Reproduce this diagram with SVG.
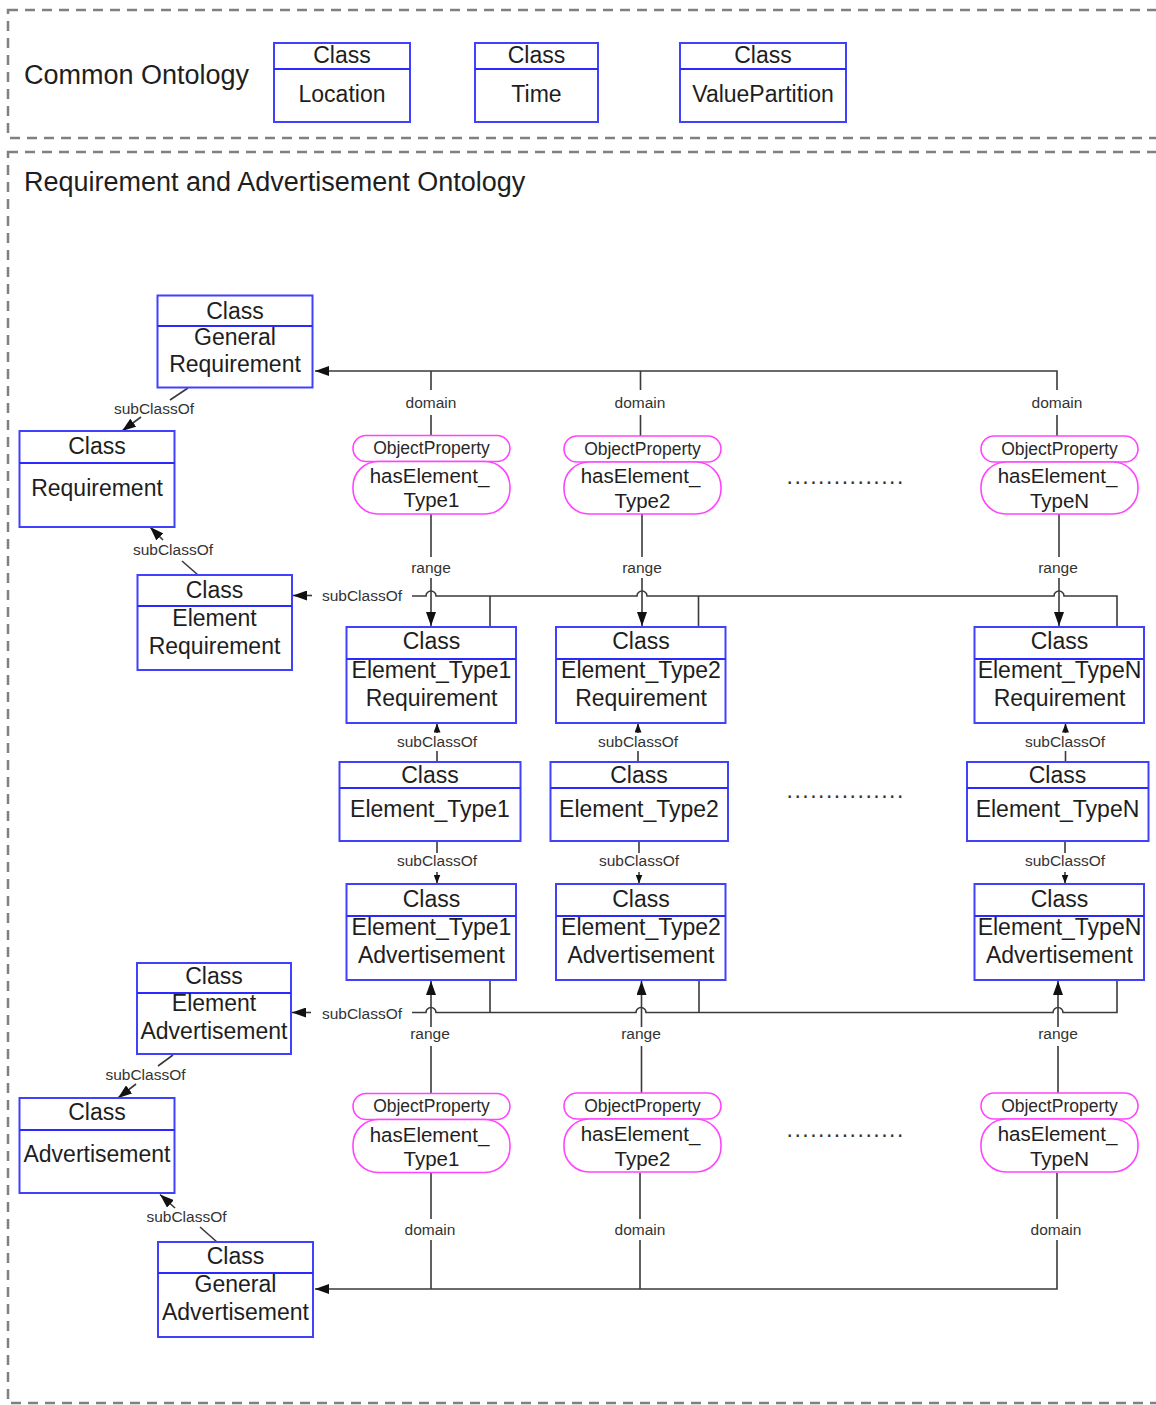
<svg xmlns="http://www.w3.org/2000/svg" width="1156" height="1405" viewBox="0 0 1156 1405">
  <style>
    .frame { fill: none; stroke: #808080; stroke-width: 2.5; stroke-dasharray: 10 7; }
    .title { font-family: "Liberation Sans", Arial, sans-serif; font-size: 27px; fill: #1e1e1e; }
    .cls rect { fill: #ffffff; stroke: #4040ff; stroke-width: 2; }
    .cls line { stroke: #2a2aff; stroke-width: 2.2; }
    .cls text { font-family: "Liberation Sans", Arial, sans-serif; font-size: 23px; fill: #1e1e1e; text-anchor: middle; }
    .prop rect { fill: #ffffff; stroke: #ff44ff; stroke-width: 1.6; }
    .prop text { font-family: "Liberation Sans", Arial, sans-serif; fill: #1e1e1e; text-anchor: middle; }
    .prop .kind { font-size: 17.5px; fill: #2a2a2a; }
    .prop .name { font-size: 20.5px; }
    .conn { fill: none; stroke: #3a3a3a; stroke-width: 1.6; }
    .lbl { font-family: "Liberation Sans", Arial, sans-serif; font-size: 15.5px; fill: #333333; text-anchor: middle; }
    .dots { font-family: "Liberation Sans", Arial, sans-serif; font-size: 23px; fill: #333333; letter-spacing: 1.5px; }
  </style>
  <defs>
    <marker id="ah" viewBox="0 0 14 10" refX="14" refY="5" markerWidth="14" markerHeight="10" markerUnits="userSpaceOnUse" orient="auto">
      <path d="M0,0 L14,5 L0,10 z" fill="#111111"/>
    </marker>
    <marker id="ahs" viewBox="0 0 9 7" refX="9" refY="3.5" markerWidth="9" markerHeight="7" markerUnits="userSpaceOnUse" orient="auto">
      <path d="M0,0 L9,3.5 L0,7 z" fill="#111111"/>
    </marker>
  </defs>

  <rect width="1156" height="1405" fill="#ffffff"/>

  <!-- ontology frames -->
  <rect class="frame" x="8" y="10" width="1200" height="128"/>
  <rect class="frame" x="8" y="152" width="1200" height="1251"/>
  <text class="title" x="24" y="84">Common Ontology</text>
  <text class="title" x="24" y="191">Requirement and Advertisement Ontology</text>

  <!-- common ontology classes -->
  <g id="location" class="cls">
    <rect x="274" y="43" width="136" height="79"/>
    <line x1="274" y1="69" x2="410" y2="69"/>
    <text x="342" y="63">Class</text>
    <text x="342" y="102">Location</text>
  </g>
  <g id="time" class="cls">
    <rect x="475" y="43" width="123" height="79"/>
    <line x1="475" y1="69" x2="598" y2="69"/>
    <text x="536.5" y="63">Class</text>
    <text x="536.5" y="102">Time</text>
  </g>
  <g id="value-partition" class="cls">
    <rect x="680" y="43" width="166" height="79"/>
    <line x1="680" y1="69" x2="846" y2="69"/>
    <text x="763" y="63">Class</text>
    <text x="763" y="102">ValuePartition</text>
  </g>

  <!-- connectors -->
  <g id="connectors">
    <!-- domain links, requirement side -->
    <path class="conn" d="M1057,390 L1057,371 L315,371" marker-end="url(#ah)"/>
    <path class="conn" d="M431,371 L431,390 M431,415 L431,435"/>
    <path class="conn" d="M640.5,371 L640.5,390 M640.5,415 L640.5,436"/>
    <path class="conn" d="M1057,415 L1057,436"/>
    <text class="lbl" x="431" y="408">domain</text>
    <text class="lbl" x="640" y="408">domain</text>
    <text class="lbl" x="1057" y="408">domain</text>

    <!-- range links, requirement side -->
    <path class="conn" d="M431,514 L431,557"/>
    <path class="conn" d="M431,578 L431,626" marker-end="url(#ah)"/>
    <path class="conn" d="M642,514 L642,557"/>
    <path class="conn" d="M642,578 L642,626" marker-end="url(#ah)"/>
    <path class="conn" d="M1059,514 L1059,557"/>
    <path class="conn" d="M1059,578 L1059,626" marker-end="url(#ah)"/>
    <text class="lbl" x="431" y="573">range</text>
    <text class="lbl" x="642" y="573">range</text>
    <text class="lbl" x="1058" y="573">range</text>

    <!-- subClassOf bus to Element Requirement -->
    <path class="conn" d="M1117,627 L1117,596 L1064,596 A5,5 0 0 0 1054,596 L647,596 A5,5 0 0 0 637,596 L436,596 A5,5 0 0 0 426,596 L412,596"/>
    <path class="conn" d="M490,596 L490,627 M698.5,596 L698.5,627"/>
    <path class="conn" d="M312,595.5 L293,595.5" marker-end="url(#ah)"/>
    <text class="lbl" x="362" y="600.5">subClassOf</text>

    <!-- subClassOf between element rows -->
    <path class="conn" d="M437,762 L437,751 M638,762 L638,751 M1065.5,762 L1065.5,751"/>
    <path class="conn" d="M437,733 L437,723.5" marker-end="url(#ahs)"/>
    <path class="conn" d="M638,733 L638,723.5" marker-end="url(#ahs)"/>
    <path class="conn" d="M1065.5,733 L1065.5,723.5" marker-end="url(#ahs)"/>
    <text class="lbl" x="437" y="747">subClassOf</text>
    <text class="lbl" x="638" y="747">subClassOf</text>
    <text class="lbl" x="1065" y="747">subClassOf</text>

    <path class="conn" d="M437,841 L437,853 M639,841 L639,853 M1065,841 L1065,853"/>
    <path class="conn" d="M437,872 L437,883.5" marker-end="url(#ahs)"/>
    <path class="conn" d="M639,872 L639,883.5" marker-end="url(#ahs)"/>
    <path class="conn" d="M1065,872 L1065,883.5" marker-end="url(#ahs)"/>
    <text class="lbl" x="437" y="866">subClassOf</text>
    <text class="lbl" x="639" y="866">subClassOf</text>
    <text class="lbl" x="1065" y="866">subClassOf</text>

    <!-- subClassOf bus to Element Advertisement -->
    <path class="conn" d="M1117,980 L1117,1012.5 L1063,1012.5 A5,5 0 0 0 1053,1012.5 L646,1012.5 A5,5 0 0 0 636,1012.5 L436,1012.5 A5,5 0 0 0 426,1012.5 L412,1012.5"/>
    <path class="conn" d="M490,980 L490,1012.5 M699,980 L699,1012.5"/>
    <path class="conn" d="M311,1012.5 L292,1012.5" marker-end="url(#ah)"/>
    <text class="lbl" x="362" y="1018.5">subClassOf</text>

    <!-- range links, advertisement side -->
    <path class="conn" d="M431,1093 L431,1046"/>
    <path class="conn" d="M431,1027 L431,981" marker-end="url(#ah)"/>
    <path class="conn" d="M641.5,1093 L641.5,1046"/>
    <path class="conn" d="M641.5,1027 L641.5,981" marker-end="url(#ah)"/>
    <path class="conn" d="M1058,1093 L1058,1046"/>
    <path class="conn" d="M1058,1027 L1058,981" marker-end="url(#ah)"/>
    <text class="lbl" x="430" y="1039">range</text>
    <text class="lbl" x="641" y="1039">range</text>
    <text class="lbl" x="1058" y="1039">range</text>

    <!-- domain links, advertisement side -->
    <path class="conn" d="M431,1173 L431,1219 M431,1240 L431,1289"/>
    <path class="conn" d="M640,1173 L640,1219 M640,1240 L640,1289"/>
    <path class="conn" d="M1057,1173 L1057,1219"/>
    <path class="conn" d="M1057,1240 L1057,1289 L315,1289" marker-end="url(#ah)"/>
    <text class="lbl" x="430" y="1234.5">domain</text>
    <text class="lbl" x="640" y="1234.5">domain</text>
    <text class="lbl" x="1056" y="1234.5">domain</text>

    <!-- left-hand hierarchy -->
    <path class="conn" d="M188,388 L170,400"/>
    <path class="conn" d="M141,417 L122,431" marker-end="url(#ah)"/>
    <text class="lbl" x="154" y="413.5">subClassOf</text>

    <path class="conn" d="M198,575 L182,561"/>
    <path class="conn" d="M163,540 L150,527" marker-end="url(#ah)"/>
    <text class="lbl" x="173" y="554.5">subClassOf</text>

    <path class="conn" d="M173,1055 L158,1066"/>
    <path class="conn" d="M136,1084 L118,1098" marker-end="url(#ah)"/>
    <text class="lbl" x="145.5" y="1080">subClassOf</text>

    <path class="conn" d="M217,1242 L200,1227"/>
    <path class="conn" d="M175,1208 L160,1194.5" marker-end="url(#ah)"/>
    <text class="lbl" x="186.5" y="1221.5">subClassOf</text>
  </g>

  <!-- left-hand classes -->
  <g id="general-requirement" class="cls">
    <rect x="157.5" y="295.5" width="155" height="92"/>
    <line x1="157.5" y1="326" x2="312.5" y2="326"/>
    <text x="235" y="318.5">Class</text>
    <text x="235" y="344.5">General</text>
    <text x="235" y="372">Requirement</text>
  </g>
  <g id="requirement" class="cls">
    <rect x="19.5" y="431" width="155" height="96"/>
    <line x1="19.5" y1="463" x2="174.5" y2="463"/>
    <text x="97" y="453.5">Class</text>
    <text x="97" y="496">Requirement</text>
  </g>
  <g id="element-requirement" class="cls">
    <rect x="137.5" y="575" width="154.5" height="95"/>
    <line x1="137.5" y1="606" x2="292" y2="606"/>
    <text x="214.5" y="598">Class</text>
    <text x="214.5" y="626">Element</text>
    <text x="214.5" y="654">Requirement</text>
  </g>
  <g id="element-advertisement" class="cls">
    <rect x="137" y="963" width="154" height="91"/>
    <line x1="137" y1="993" x2="291" y2="993"/>
    <text x="214" y="984">Class</text>
    <text x="214" y="1011">Element</text>
    <text x="214" y="1039">Advertisement</text>
  </g>
  <g id="advertisement" class="cls">
    <rect x="19.5" y="1098" width="155" height="95"/>
    <line x1="19.5" y1="1130" x2="174.5" y2="1130"/>
    <text x="97" y="1120">Class</text>
    <text x="97" y="1162">Advertisement</text>
  </g>
  <g id="general-advertisement" class="cls">
    <rect x="158" y="1242" width="155" height="95"/>
    <line x1="158" y1="1273" x2="313" y2="1273"/>
    <text x="235.5" y="1264">Class</text>
    <text x="235.5" y="1292">General</text>
    <text x="235.5" y="1320">Advertisement</text>
  </g>

  <!-- element requirement classes -->
  <g id="type1-requirement" class="cls">
    <rect x="346.5" y="627" width="169.5" height="96"/>
    <line x1="346.5" y1="659" x2="516" y2="659"/>
    <text x="431.5" y="649">Class</text>
    <text x="431.5" y="678">Element_Type1</text>
    <text x="431.5" y="706">Requirement</text>
  </g>
  <g id="type2-requirement" class="cls">
    <rect x="556" y="627" width="169.5" height="96"/>
    <line x1="556" y1="659" x2="725.5" y2="659"/>
    <text x="641" y="649">Class</text>
    <text x="641" y="678">Element_Type2</text>
    <text x="641" y="706">Requirement</text>
  </g>
  <g id="typeN-requirement" class="cls">
    <rect x="974.5" y="627" width="169.5" height="96"/>
    <line x1="974.5" y1="659" x2="1144" y2="659"/>
    <text x="1059.5" y="649">Class</text>
    <text x="1059.5" y="678">Element_TypeN</text>
    <text x="1059.5" y="706">Requirement</text>
  </g>

  <!-- element classes -->
  <g id="type1-element" class="cls">
    <rect x="339.5" y="762" width="181" height="79"/>
    <line x1="339.5" y1="788" x2="520.5" y2="788"/>
    <text x="430" y="782.5">Class</text>
    <text x="430" y="816.5">Element_Type1</text>
  </g>
  <g id="type2-element" class="cls">
    <rect x="550.5" y="762" width="177.5" height="79"/>
    <line x1="550.5" y1="788" x2="728" y2="788"/>
    <text x="639" y="782.5">Class</text>
    <text x="639" y="816.5">Element_Type2</text>
  </g>
  <g id="typeN-element" class="cls">
    <rect x="967" y="762" width="181.5" height="79"/>
    <line x1="967" y1="788" x2="1148.5" y2="788"/>
    <text x="1057.5" y="782.5">Class</text>
    <text x="1057.5" y="816.5">Element_TypeN</text>
  </g>

  <!-- element advertisement classes -->
  <g id="type1-advertisement" class="cls">
    <rect x="346.5" y="884" width="169.5" height="96"/>
    <line x1="346.5" y1="916" x2="516" y2="916"/>
    <text x="431.5" y="907">Class</text>
    <text x="431.5" y="935">Element_Type1</text>
    <text x="431.5" y="963">Advertisement</text>
  </g>
  <g id="type2-advertisement" class="cls">
    <rect x="556" y="884" width="169.5" height="96"/>
    <line x1="556" y1="916" x2="725.5" y2="916"/>
    <text x="641" y="907">Class</text>
    <text x="641" y="935">Element_Type2</text>
    <text x="641" y="963">Advertisement</text>
  </g>
  <g id="typeN-advertisement" class="cls">
    <rect x="974.5" y="884" width="169.5" height="96"/>
    <line x1="974.5" y1="916" x2="1144" y2="916"/>
    <text x="1059.5" y="907">Class</text>
    <text x="1059.5" y="935">Element_TypeN</text>
    <text x="1059.5" y="963">Advertisement</text>
  </g>

  <!-- object properties, requirement side -->
  <g id="req-has-type1" class="prop">
    <rect x="353" y="435.5" width="157" height="26" rx="13"/>
    <rect x="353" y="461.5" width="157" height="52.5" rx="25"/>
    <text class="kind" x="431.5" y="454">ObjectProperty</text>
    <text class="name" x="429.5" y="482.5">hasElement_</text>
    <text class="name" x="431.5" y="507">Type1</text>
  </g>
  <g id="req-has-type2" class="prop">
    <rect x="564" y="436" width="157" height="26" rx="13"/>
    <rect x="564" y="462" width="157" height="52" rx="25"/>
    <text class="kind" x="642.5" y="454.5">ObjectProperty</text>
    <text class="name" x="640.5" y="483">hasElement_</text>
    <text class="name" x="642.5" y="507.5">Type2</text>
  </g>
  <g id="req-has-typeN" class="prop">
    <rect x="981" y="436" width="157" height="26" rx="13"/>
    <rect x="981" y="462" width="157" height="52" rx="25"/>
    <text class="kind" x="1059.5" y="454.5">ObjectProperty</text>
    <text class="name" x="1057.5" y="483">hasElement_</text>
    <text class="name" x="1059.5" y="507.5">TypeN</text>
  </g>

  <!-- object properties, advertisement side -->
  <g id="adv-has-type1" class="prop">
    <rect x="353" y="1093.5" width="157" height="26" rx="13"/>
    <rect x="353" y="1119.5" width="157" height="53" rx="25"/>
    <text class="kind" x="431.5" y="1112">ObjectProperty</text>
    <text class="name" x="429.5" y="1141.5">hasElement_</text>
    <text class="name" x="431.5" y="1166">Type1</text>
  </g>
  <g id="adv-has-type2" class="prop">
    <rect x="564" y="1093" width="157" height="26" rx="13"/>
    <rect x="564" y="1119" width="157" height="53" rx="25"/>
    <text class="kind" x="642.5" y="1111.5">ObjectProperty</text>
    <text class="name" x="640.5" y="1141">hasElement_</text>
    <text class="name" x="642.5" y="1165.5">Type2</text>
  </g>
  <g id="adv-has-typeN" class="prop">
    <rect x="981" y="1093" width="157" height="26" rx="13"/>
    <rect x="981" y="1119" width="157" height="53" rx="25"/>
    <text class="kind" x="1059.5" y="1111.5">ObjectProperty</text>
    <text class="name" x="1057.5" y="1141">hasElement_</text>
    <text class="name" x="1059.5" y="1165.5">TypeN</text>
  </g>

  <!-- ellipses for the omitted types -->
  <text class="dots" x="786.5" y="484">...............</text>
  <text class="dots" x="786.5" y="797.5">...............</text>
  <text class="dots" x="786.5" y="1136.5">...............</text>
</svg>
